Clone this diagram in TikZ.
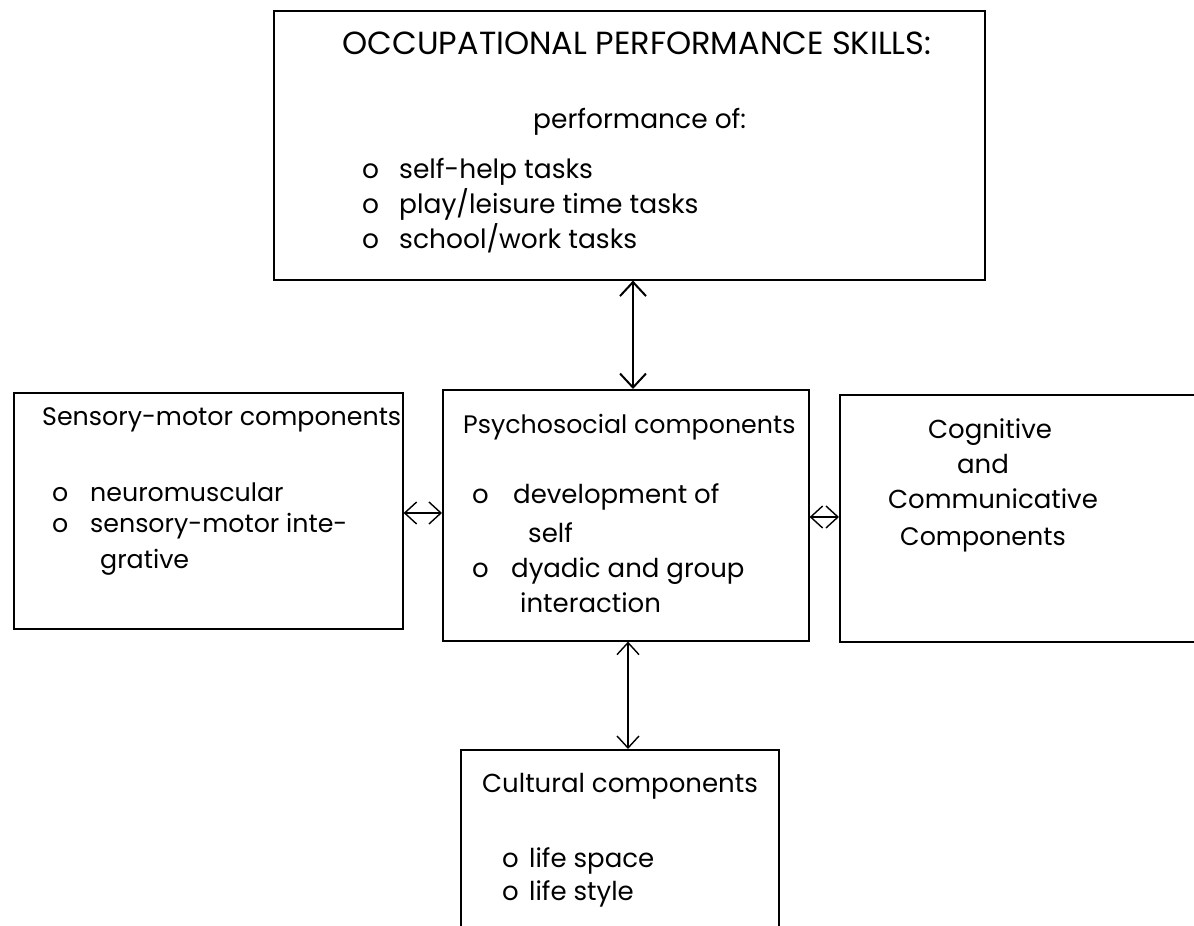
\documentclass[tikz,border=0pt]{standalone}
\usepackage{fontspec}
\setmainfont{Poppins}
\usetikzlibrary{arrows.meta,calc}
\begin{document}
\begin{tikzpicture}[x=1pt,y=-1pt,
  boxline/.style={draw=black,line width=1.6pt},
  body/.style={inner sep=0pt,font=\fontsize{26}{30}\selectfont},
  bodytop/.style={inner sep=0pt,font=\fontsize{26.5}{30}\selectfont},
  bodysm/.style={inner sep=0pt,font=\fontsize{25.3}{30}\selectfont},
  ttl/.style={inner sep=0pt,font=\fontsize{32}{36}\selectfont},
  dbl/.style={{Straight Barb[length=12pt,width=22pt]}-{Straight Barb[length=12pt,width=22pt]},line width=1.4pt},
  dblthick/.style={{Straight Barb[length=14pt,width=26pt]}-{Straight Barb[length=14pt,width=26pt]},line width=2pt}]
\useasboundingbox (0,0) rectangle (1194,926);
\clip (0,0) rectangle (1194,926);
\fill[white] (0,0) rectangle (1194,926);

% boxes
\node[boxline,inner sep=0pt,minimum width=711pt,minimum height=269pt,anchor=north west] (topbox) at (273,10) {};
\node[boxline,inner sep=0pt,minimum width=389pt,minimum height=236pt,anchor=north west] (sen) at (13,392) {};
\node[boxline,inner sep=0pt,minimum width=366pt,minimum height=251pt,anchor=north west] (psy) at (442,389) {};
\node[boxline,inner sep=0pt,minimum width=380pt,minimum height=247pt,anchor=north west] (cog) at (839,394) {};
\node[boxline,inner sep=0pt,minimum width=318pt,minimum height=200pt,anchor=north west] (cul) at (460,749) {};

% top box text
\node[ttl,anchor=base] (t1) at (637,54) {OCCUPATIONAL PERFORMANCE SKILLS:};
\node[bodytop,anchor=base west] (t2) at (533,128) {performance of:};
\node[bodytop,anchor=base west] (b1) at (362,178) {o};
\node[bodytop,anchor=base west] (t3) at (399,178) {self-help tasks};
\node[bodytop,anchor=base west] (b2) at (362,213) {o};
\node[bodytop,anchor=base west] (t4) at (399,213) {play/leisure time tasks};
\node[bodytop,anchor=base west] (b3) at (362,248) {o};
\node[bodytop,anchor=base west] (t5) at (399,248) {school/work tasks};

% sensory-motor
\node[bodysm,anchor=base west] (s1) at (42,425) {Sensory-motor components};
\node[bodysm,anchor=base west] (sb1) at (52,501) {o};
\node[bodysm,anchor=base west] (s2) at (90,501) {neuromuscular};
\node[bodysm,anchor=base west] (sb2) at (52,532) {o};
\node[bodysm,anchor=base west] (s3) at (90,532) {sensory-motor inte-};
\node[bodysm,anchor=base west] (s4) at (100,568) {grative};

% psychosocial
\node[bodysm,anchor=base west] (p1) at (463,433) {Psychosocial components};
\node[body,anchor=base west] (pb1) at (472,503) {o};
\node[body,anchor=base west] (p2) at (513,503) {development of};
\node[body,anchor=base west] (p3) at (528,542) {self};
\node[body,anchor=base west] (pb2) at (472,577) {o};
\node[body,anchor=base west] (p4) at (511,577) {dyadic and group};
\node[body,anchor=base west] (p5) at (520,612) {interaction};

% cognitive
\node[body,anchor=base] (c1) at (990,438) {Cognitive};
\node[body,anchor=base] (c2) at (983,473) {and};
\node[body,anchor=base] (c3) at (993,508) {Communicative};
\node[bodysm,anchor=base] (c4) at (983,545) {Components};

% cultural
\node[body,anchor=base] (u1) at (620,792) {Cultural components};
\node[body,anchor=base west] (ub1) at (502,867) {o};
\node[body,anchor=base west] (u2) at (529,867) {life space};
\node[body,anchor=base west] (ub2) at (502,900) {o};
\node[body,anchor=base west] (u3) at (529,900) {life style};

% connectors
\coordinate (ax1) at (633,0);
\coordinate (ax2) at (628,0);
\coordinate (ay1) at (0,513);
\coordinate (ay2) at (0,517);
\draw[dblthick] (topbox.south -| ax1) -- (psy.north -| ax1);
\draw[dbl] (psy.south -| ax2) -- (cul.north -| ax2);
\draw[dbl] (sen.east |- ay1) -- (psy.west |- ay1);
\draw[dbl] (psy.east |- ay2) -- (cog.west |- ay2);
\end{tikzpicture}
\end{document}
